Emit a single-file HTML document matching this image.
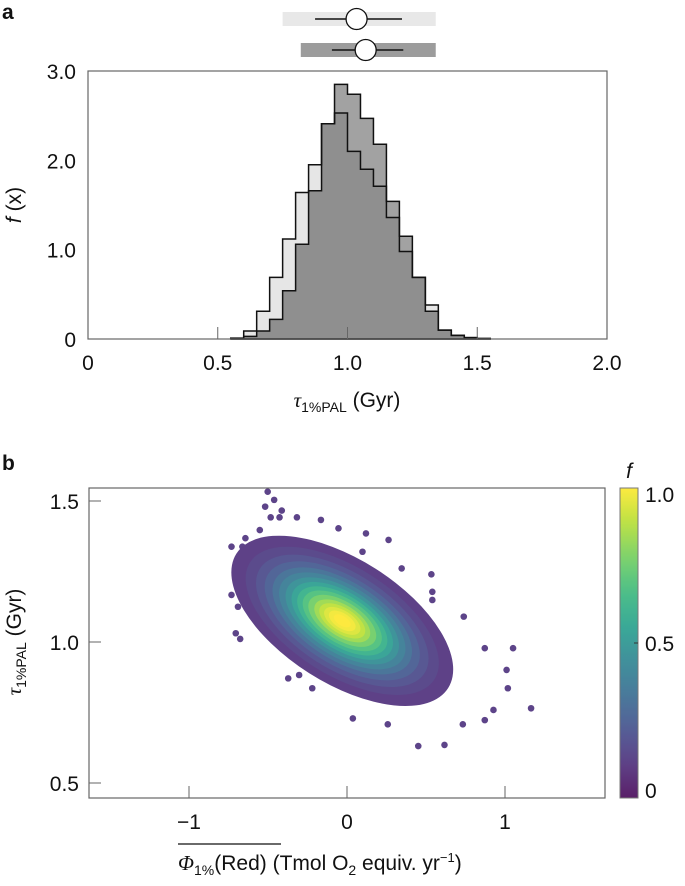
<!DOCTYPE html>
<html><head><meta charset="utf-8"><style>
body{margin:0;background:#fff}
svg text{font-family:"Liberation Sans",sans-serif;fill:#111}
</style></head><body>
<svg id="fig" width="685" height="881" viewBox="0 0 685 881" xmlns="http://www.w3.org/2000/svg">
<text x="2" y="19" font-size="21" font-weight="bold">a</text>
<text x="2" y="470" font-size="21" font-weight="bold">b</text>
<g id="ga"></g>
<g id="gb"></g>
</svg>
<script>
// ---------- Panel a data ----------
const binStart = 0.55, binWidth = 0.05;
const seriesLight = [0.01,0.09,0.31,0.69,1.12,1.64,1.95,2.41,2.53,2.10,1.90,1.71,1.36,0.98,0.69,0.38,0.10,0.04,0.015,0.005];
const seriesDark  = [0.00,0.03,0.09,0.22,0.54,1.06,1.66,2.41,2.85,2.74,2.47,2.18,1.54,1.15,0.69,0.31,0.10,0.04,0.015,0.005];
const histXTicks = [0,0.5,1.0,1.5,2.0];
const histXTickLabels = ["0","0.5","1.0","1.5","2.0"];
const histYTicks = [0,1,2,3];
const histYTickLabels = ["0","1.0","2.0","3.0"];
// summary boxes: [barLo, barHi, whiskerLo, whiskerHi, median]
const summaryLight = [0.75,1.34,0.875,1.21,1.035];
const summaryDark  = [0.82,1.34,0.94,1.215,1.07];

// ---------- Panel b data ----------
const scatterMean = [-0.03, 1.075];
const scatterSD = [0.33, 0.14];
const scatterRho = -0.6;
const densityLevels = [0.03,0.07,0.12,0.18,0.25,0.32,0.4,0.48,0.56,0.64,0.72,0.8,0.86,0.91,0.95,0.98];
const outlierX = [-0.502,-0.461,-0.518,-0.413,-0.483,-0.427,-0.317,-0.165,-0.054,0.120,-0.552,-0.731,-0.643,-0.662,0.346,0.534,0.540,-0.731,-0.690,-0.704,-0.676,0.739,0.872,1.051,1.010,1.018,1.165,0.927,0.451,0.617,0.258,0.037,0.733,0.872,-0.372,-0.303,-0.220,0.540,0.263,0.098];
const outlierY = [1.533,1.504,1.480,1.466,1.442,1.442,1.442,1.433,1.403,1.385,1.397,1.338,1.368,1.338,1.261,1.240,1.178,1.167,1.125,1.031,1.011,1.090,0.978,0.978,0.901,0.836,0.765,0.759,0.631,0.635,0.708,0.729,0.708,0.723,0.871,0.883,0.836,1.149,1.362,1.320];
const scatterXTicks = [-1,0,1];
const scatterXTickLabels = ["\u22121","0","1"];
const scatterYTicks = [0.5,1.0,1.5];
const scatterYTickLabels = ["0.5","1.0","1.5"];
const cbarTicks = [0,0.5,1];
const cbarTickLabels = ["0","0.5","1.0"];

const NS="http://www.w3.org/2000/svg";
function mk(tag, attrs, parent){const e=document.createElementNS(NS,tag);for(const k in attrs)e.setAttribute(k,attrs[k]);parent.appendChild(e);return e;}
const FS=21;

// ---------- Panel a ----------
const ga=document.getElementById('ga');
const ax={l:88,r:607,t:71,b:339};
const hx=v=>ax.l+(v-0)/(2.0-0)*(ax.r-ax.l);
const hy=v=>ax.b-(v/3.0)*(ax.b-ax.t);
function stepPath(vals){let d=`M${hx(binStart)},${hy(0)}`;vals.forEach((v,i)=>{const x0=hx(binStart+i*binWidth),x1=hx(binStart+(i+1)*binWidth);d+=` L${x0},${hy(v)} L${x1},${hy(v)}`;});d+=` L${hx(binStart+vals.length*binWidth)},${hy(0)} Z`;return d;}
let p;
p=mk('path',{d:stepPath(seriesLight),fill:'#e6e6e6',stroke:'none'},ga);


p=mk('path',{d:stepPath(seriesDark),fill:'#a2a2a2',stroke:'none'},ga);


const overlap=seriesLight.map((v,i)=>Math.min(v,seriesDark[i]));
p=mk('path',{d:stepPath(overlap),fill:'#8f8f8f',stroke:'none'},ga);


p=mk('path',{d:stepPath(seriesLight),fill:'none',stroke:'#111','stroke-width':1.5},ga);


p=mk('path',{d:stepPath(seriesDark),fill:'none',stroke:'#111','stroke-width':1.5},ga);


p=mk('rect',{x:ax.l,y:ax.t,width:ax.r-ax.l,height:ax.b-ax.t,fill:'none',stroke:'#666','stroke-width':1.2},ga);


histXTicks.forEach((t,i)=>{
  const l=mk('line',{x1:hx(t),x2:hx(t),y1:ax.b,y2:ax.b-12,stroke:'#666','stroke-width':1},ga);
  
  
  const tx=mk('text',{x:hx(t),y:ax.b+31,'font-size':FS,'text-anchor':'middle'},ga);tx.textContent=histXTickLabels[i];
  
  
});
histYTicks.forEach((t,i)=>{
  const tx=mk('text',{x:76,y:hy(t)+8,'font-size':FS,'text-anchor':'end'},ga);tx.textContent=histYTickLabels[i];
  
  
});
let t=mk('text',{x:0,y:0,'font-size':FS,transform:'translate(21,205) rotate(-90)','text-anchor':'middle'},ga);
t.innerHTML='<tspan font-style="italic">f</tspan> (x)';


t=mk('text',{x:347,y:407,'font-size':FS,'text-anchor':'middle'},ga);
t.innerHTML='<tspan font-family="Liberation Serif" font-style="italic">τ</tspan><tspan font-size="14" dy="5">1%PAL</tspan><tspan dy="-5"> (Gyr)</tspan>';


function summary(s,cy,fill,name){
  const g=mk('g',{},ga);
  
  
  mk('rect',{x:hx(s[0]),y:cy-7,width:hx(s[1])-hx(s[0]),height:14,fill:fill},g);
  mk('line',{x1:hx(s[2]),x2:hx(s[3]),y1:cy,y2:cy,stroke:'#111','stroke-width':1.5},g);
  mk('circle',{cx:hx(s[4]),cy:cy,r:10.5,fill:'#fff',stroke:'#111','stroke-width':1.3},g);
}
summary(summaryLight,19,'#e8e8e8','summary-light');
summary(summaryDark,50,'#9c9c9c','summary-dark');

// ---------- Panel b ----------
const gb=document.getElementById('gb');
const bx={l:89,r:605,t:488,b:798};
const sx=v=>347+v*158;
const sy=v=>642-(v-1.0)*282;
const vir=[[68,1,84],[72,40,120],[62,74,137],[49,104,142],[38,130,142],[31,158,137],[53,183,121],[109,205,89],[180,222,44],[253,231,37]];
function viridis(f){f=Math.max(0,Math.min(1,f));const s=f*(vir.length-1),i=Math.min(Math.floor(s),vir.length-2),u=s-i;const c=vir[i].map((a,k)=>Math.round(a+(vir[i+1][k]-a)*u));return `rgb(${c[0]},${c[1]},${c[2]})`;}
const defs=mk('defs',{},gb);
const clip=mk('clipPath',{id:'cb'},defs);mk('rect',{x:bx.l,y:bx.t,width:bx.r-bx.l,height:bx.b-bx.t},clip);
const pg=mk('g',{'clip-path':'url(#cb)',opacity:0.88},gb);


const psx=scatterSD[0]*158, psy=scatterSD[1]*282;
const a=psx*psx, d=psy*psy, b=-scatterRho*psx*psy;
const half=(a+d)/2, disc=Math.sqrt(half*half-(a*d-b*b));
const l1=half+disc, l2=half-disc, ang=0.5*Math.atan2(2*b,a-d)*180/Math.PI;
const cx=sx(scatterMean[0]), cy=sy(scatterMean[1]);
outlierX.forEach((v,i)=>{
  const c=mk('circle',{cx:sx(v),cy:sy(outlierY[i]),r:3.3,fill:viridis(0.12)},pg);
  
  
});
densityLevels.forEach(f=>{
  const k=Math.sqrt(-2*Math.log(f))*0.8;
  const e=mk('ellipse',{cx:cx,cy:cy,rx:k*Math.sqrt(l1),ry:k*Math.sqrt(l2)*1.05,transform:`rotate(${ang} ${cx} ${cy})`,fill:viridis(f*0.95+0.08)},pg);
  
  
});
p=mk('rect',{x:bx.l,y:bx.t,width:bx.r-bx.l,height:bx.b-bx.t,fill:'none',stroke:'#666','stroke-width':1.2},gb);


scatterXTicks.forEach((v,i)=>{
  const l=mk('line',{x1:sx(v),x2:sx(v),y1:bx.b,y2:bx.b-12,stroke:'#666'},gb);
  
  
  const tx=mk('text',{x:sx(v),y:bx.b+31,'font-size':FS,'text-anchor':'middle'},gb);tx.textContent=scatterXTickLabels[i];
  
  
});
scatterYTicks.forEach((v,i)=>{
  const l=mk('line',{x1:bx.l,x2:bx.l+12,y1:sy(v),y2:sy(v),stroke:'#666'},gb);
  
  
  const tx=mk('text',{x:79,y:sy(v)+8,'font-size':FS,'text-anchor':'end'},gb);tx.textContent=scatterYTickLabels[i];
  
  
});
t=mk('text',{x:0,y:0,'font-size':FS,transform:'translate(21,642) rotate(-90)','text-anchor':'middle'},gb);
t.innerHTML='<tspan font-family="Liberation Serif" font-style="italic">τ</tspan><tspan font-size="14" dy="5">1%PAL</tspan><tspan dy="-5"> (Gyr)</tspan>';


t=mk('text',{x:178,y:870,'font-size':FS},gb);
t.innerHTML='<tspan font-family="Liberation Serif" font-style="italic">Φ</tspan><tspan font-size="14" dy="5">1%</tspan><tspan dy="-5">(Red) (Tmol O</tspan><tspan font-size="14" dy="5">2</tspan><tspan dy="-5"> equiv. yr</tspan><tspan font-size="13" dy="-8">−1</tspan><tspan dy="8">)</tspan>';


p=mk('line',{x1:178,x2:281,y1:844,y2:844,stroke:'#111','stroke-width':1.3},gb);


const grad=mk('linearGradient',{id:'vg',x1:0,y1:1,x2:0,y2:0},defs);
for(let i=0;i<=20;i++){mk('stop',{offset:i/20,'stop-color':viridis(i/20)},grad);}
const cbx=620, cbw=18;
p=mk('rect',{x:cbx,y:bx.t,width:cbw,height:bx.b-bx.t,fill:'url(#vg)',opacity:0.88,stroke:'#666','stroke-width':1},gb);


const cby=v=>bx.b-v*(bx.b-bx.t);
cbarTicks.forEach((v,i)=>{
  const tx=mk('text',{x:cbx+cbw+7,y:cby(v)+(v===0?0:v===1?14:8),'font-size':FS},gb);tx.textContent=cbarTickLabels[i];
  
  
});
p=mk('line',{x1:cbx+cbw-4,x2:cbx+cbw,y1:cby(0.5),y2:cby(0.5),stroke:'#333'},gb);


t=mk('text',{x:cbx+9,y:bx.t-10,'font-size':FS,'font-style':'italic','text-anchor':'middle'},gb);t.textContent='f';


</script>
</body></html>
